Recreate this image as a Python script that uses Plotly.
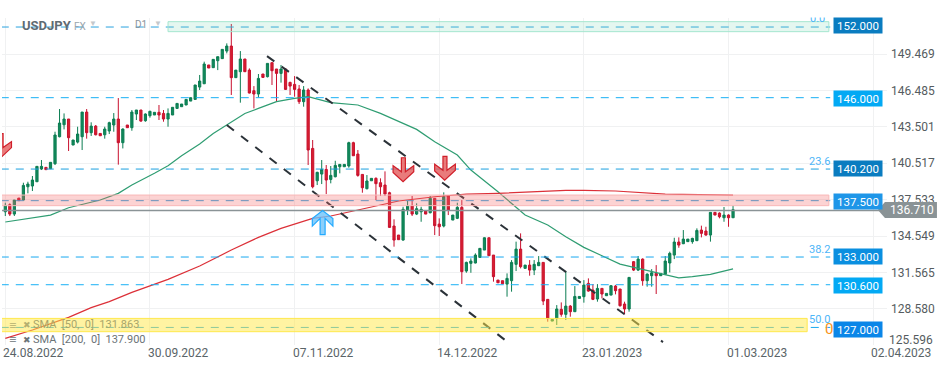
import plotly.graph_objects as go

opens = [136.54,137.12,136.35,137.66,137.50,138.59,138.65,139.00,140.04,140.18,
140.07,140.48,142.69,143.67,144.14,142.01,142.25,142.69,144.71,143.02,
143.56,142.96,142.85,143.16,143.65,144.14,142.20,143.65,143.43,144.55,
144.88,144.00,144.41,144.47,144.69,144.60,144.14,144.47,145.01,145.15,
145.29,145.61,145.75,146.76,147.03,148.57,148.35,148.92,149.09,149.71,
150.12,147.53,148.02,149.06,148.15,146.46,146.19,147.83,147.61,148.76,
148.24,147.88,148.24,147.14,146.98,146.60,145.56,146.52,141.73,139.08,
139.63,140.01,139.19,139.41,140.23,140.23,140.29,142.20,141.27,139.60,
138.43,139.08,139.28,138.92,138.73,138.10,135.37,134.63,134.22,136.68,
137.01,136.35,136.54,136.60,136.46,137.64,135.53,135.37,137.83,135.86,
136.00,136.90,131.68,132.31,132.34,132.80,133.40,134.41,132.99,130.94,
130.89,130.61,130.89,132.23,133.48,131.90,132.17,131.76,132.12,132.39,
129.36,127.58,127.80,128.54,128.13,128.81,128.35,129.44,129.58,130.67,
130.12,129.39,130.26,129.66,129.71,130.45,130.21,128.98,128.57,132.45,
131.76,132.66,130.89,131.30,131.49,131.30,131.41,132.34,132.99,134.06,
133.92,134.09,134.09,134.17,135.04,134.96,134.63,136.49,136.43,136.05,
136.27,136.05]
highs = [137.28,137.23,137.50,137.66,138.92,139.00,139.47,140.26,140.78,140.18,
140.59,143.10,144.96,144.60,144.14,142.42,143.51,144.71,144.96,143.87,
143.65,142.96,143.51,143.92,144.63,145.86,143.37,143.65,144.88,144.88,
144.88,144.60,144.82,144.69,145.29,144.88,145.01,145.10,145.42,145.37,
145.75,145.89,146.93,147.75,148.84,148.57,149.03,149.25,149.85,150.34,
151.93,148.15,149.71,149.06,148.29,146.84,147.83,147.83,148.70,148.76,
148.24,148.57,148.29,147.20,147.66,146.93,146.84,146.65,142.42,139.82,
140.78,140.37,140.29,140.72,140.42,140.42,142.28,142.28,141.60,139.60,
139.55,139.28,139.36,139.28,139.85,138.18,135.92,134.63,136.95,137.42,
137.83,137.23,136.95,136.60,137.83,137.64,136.00,138.13,137.83,136.27,
137.28,137.50,132.45,132.72,133.13,133.54,134.44,134.41,132.99,130.94,
130.89,131.49,132.58,134.09,134.77,132.17,132.58,132.58,132.91,132.39,
129.36,127.72,128.89,129.11,131.68,128.89,130.45,129.60,130.94,131.08,
130.61,130.61,130.26,129.85,130.53,130.53,130.21,129.17,131.16,132.50,
132.91,132.72,131.49,131.84,132.17,131.49,132.91,133.27,134.41,134.44,
135.04,134.30,134.41,135.18,135.40,135.31,136.49,136.49,136.49,136.93,
136.33,137.04]
lows = [136.19,136.19,136.19,137.45,137.45,138.05,138.24,139.00,139.96,139.99,
140.04,140.37,142.64,143.29,141.52,142.01,142.14,141.60,142.53,142.75,
142.80,142.77,142.53,142.91,143.10,140.40,141.73,143.43,143.18,144.06,
143.92,143.92,144.25,144.47,144.06,143.92,143.51,144.47,145.01,145.15,
145.29,145.61,145.75,146.52,147.03,148.32,148.35,148.15,149.09,149.52,
146.11,147.53,145.48,148.02,146.24,145.01,145.91,147.55,147.55,146.93,
145.56,147.12,146.52,146.11,145.97,145.37,145.15,140.37,138.46,138.73,
138.81,137.99,138.87,139.36,139.69,140.23,140.15,141.13,139.41,138.10,
138.37,139.08,137.50,137.83,137.83,135.23,133.68,134.25,134.17,136.27,
136.19,136.27,135.72,136.35,136.41,134.63,134.55,135.26,136.27,135.86,
135.94,130.62,131.54,131.54,132.31,132.80,133.40,132.94,130.81,130.72,
130.64,129.58,129.99,131.68,131.90,131.90,131.30,131.35,132.09,128.89,
127.53,127.58,127.26,127.94,127.67,127.94,128.35,129.44,129.09,129.99,
129.30,129.17,129.44,129.66,129.71,129.77,128.76,128.13,128.35,131.68,
131.68,130.48,130.40,130.40,129.80,131.30,131.35,131.57,132.66,133.59,
133.89,134.09,133.92,134.14,134.44,134.58,134.09,136.27,136.00,135.72,
135.31,136.05]
closes = [137.06,136.35,137.50,137.45,138.70,138.81,139.14,140.26,140.26,139.99,
140.59,142.83,143.81,144.14,142.61,142.42,142.91,144.71,143.02,143.56,
142.85,142.77,143.32,143.84,144.14,142.20,143.32,143.43,144.71,144.88,
143.97,144.55,144.77,144.69,144.47,144.14,144.60,145.10,145.42,145.37,
145.75,145.89,146.93,147.25,148.65,148.32,149.03,149.25,149.85,150.12,
147.53,148.15,149.06,148.02,146.27,146.19,147.47,147.55,148.70,148.10,
147.88,148.24,146.57,146.84,146.57,145.56,146.52,141.60,138.59,139.77,
140.01,139.14,139.52,140.34,140.42,140.42,142.20,141.13,139.52,138.51,
139.06,139.28,138.84,138.59,137.99,135.26,134.22,134.25,136.74,137.01,
136.35,136.79,136.74,136.35,137.64,135.40,135.31,137.77,136.68,136.27,
136.90,131.63,132.39,132.50,132.99,133.54,134.41,132.94,131.22,130.72,
130.64,131.08,132.39,133.48,132.04,132.17,131.76,132.23,132.39,129.22,
127.80,127.72,128.57,128.13,128.81,128.35,129.60,129.60,130.53,130.04,
129.36,130.26,129.80,129.85,130.48,130.07,128.84,128.57,131.16,131.76,
132.66,130.89,131.43,131.54,131.30,131.49,132.50,133.13,134.06,133.81,
134.30,134.30,134.36,135.01,134.77,134.63,136.49,136.27,136.13,136.27,
136.05,136.71]

sma50_bar = [0,4,10,14,17,21,25,28,33,36,39,43,46,49,53,56,60,64,67,72,78,83,91,95,100,103,109,115,120,124,128,132,136,140,145,149,152,156,161]
sma50_val = [135.70,135.92,136.27,136.87,137.14,137.50,138.05,138.73,139.69,140.31,141.13,142.09,142.96,143.65,144.60,145.01,145.56,145.83,145.97,145.48,145.29,144.60,143.29,142.28,141.19,139.96,138.18,136.27,135.45,134.50,133.62,132.94,132.25,131.90,131.49,131.13,131.22,131.41,131.86]
sma200_bar = [0,6,14,19,23,28,36,43,50,56,61,68,72,80,87,95,102,109,117,124,128,132,135,146,161]
sma200_val = [126.16,126.85,127.88,128.68,129.17,129.93,131.00,132.09,133.40,134.44,135.18,136.00,136.19,136.82,137.42,137.77,137.99,138.05,138.18,138.29,138.29,138.24,138.24,137.99,137.90]

price_ticks = [149.469,146.485,143.501,140.517,137.533,134.549,131.565,128.580]
price_tick_bottom = "125.596"
date_bars = [0,32,64,96,128,160,192]
date_labels = ["24.08.2022","30.09.2022","07.11.2022","14.12.2022","23.01.2023","01.03.2023","02.04.2023"]

level_names = ["152.000","146.000","140.200","137.500","133.000","130.600","127.000"]
level_lines = [151.68,145.89,140.04,137.45,132.83,130.56,127.06]
level_tags = [151.80,145.82,140.08,137.38,132.87,130.49,126.89]
level_colors = ["#0a7cc0","#03a9f4","#0a7cc0","#1e96e8","#0a8fe0","#03a9f4","#0a86e8"]
line_colors = ["#2aa2df","#18b0f5","#1a9fdf","#2aa2df","#18a8f0","#18b0f5","#18a8f0"]

zones = [(36,182.2,151.30,152.12,"rgba(120,215,180,0.2)","#a5e6cf"),
         (-1,182.2,137.04,137.91,"rgba(245,110,110,0.3)","#f8b8b8"),
         (-1,177.4,126.71,127.80,"rgba(255,232,70,0.5)","#ffe84d")]
trends = [(57.9,149.30,145.5,125.86),(49,143.65,111.7,125.70)]
fib_labels = [("23.6",140.04),("38.2",132.83),("50.0",127.06)]
current_price = 136.65

fig = go.Figure()
fig.add_trace(go.Candlestick(x=list(range(len(opens))),open=opens,high=highs,low=lows,close=closes,
    increasing=dict(line=dict(color="#0b7d52",width=1),fillcolor="#128a5c"),
    decreasing=dict(line=dict(color="#c8102e",width=1),fillcolor="#d8202f"),
    whiskerwidth=0,hoverinfo="skip",showlegend=False))
fig.add_trace(go.Scatter(x=sma50_bar,y=sma50_val,mode="lines",line=dict(color="#2f9d72",width=1.2),showlegend=False,hoverinfo="skip"))
fig.add_trace(go.Scatter(x=sma200_bar,y=sma200_val,mode="lines",line=dict(color="#dc3038",width=1.2),showlegend=False,hoverinfo="skip"))

shapes = []
for (x0,y0,x1,y1) in trends:
    shapes.append(dict(type="line",x0=x0,y0=y0,x1=x1,y1=y1,xref="x",yref="y",line=dict(color="#2b3238",width=2,dash="9px,9px")))
for p,c in zip(level_lines,line_colors):
    shapes.append(dict(type="line",x0=-1,x1=182.5,y0=p,y1=p,xref="x",yref="y",line=dict(color=c,width=1,dash="8px,7px")))
shapes.append(dict(type="line",x0=-1,x1=195,y0=current_price,y1=current_price,xref="x",yref="y",line=dict(color="#8a9396",width=1.5)))
for (x0,x1,y0,y1,fc,lc) in zones:
    shapes.append(dict(type="rect",x0=x0,x1=x1,y0=y0,y1=y1,xref="x",yref="y",fillcolor=fc,line=dict(color=lc,width=1)))

def down_arrow():
    return "M-1.7,24 L2.3,24 L2.3,10 L10.7,16 L10.7,10 L0,0 L-10,9.3 L-10,16 L-1.7,10 Z"
def up_arrow():
    return "M-2.5,-24.3 L2.5,-24.3 L2.5,-8 L10.3,-15.7 L10.3,-8 L0,0 L-10.3,-8 L-10.3,-15.7 L-2.5,-8 Z"
for bx,py in [(88.0,139.0),(97.2,139.12),(-1.0,140.98)]:
    shapes.append(dict(type="path",xref="x",yref="y",xsizemode="pixel",ysizemode="pixel",xanchor=bx,yanchor=py,path=down_arrow(),
        fillcolor="rgba(228,90,90,0.8)",line=dict(color="#d01f2a",width=1.2)))
shapes.append(dict(type="path",xref="x",yref="y",xsizemode="pixel",ysizemode="pixel",xanchor=70.2,yanchor=136.65,path=up_arrow(),
    fillcolor="rgba(110,195,250,0.8)",line=dict(color="#22aaff",width=1.2)))
shapes.append(dict(type="path",xref="paper",yref="paper",xsizemode="pixel",ysizemode="pixel",xanchor=0.9977,yanchor=0.4128,
    path="M-7,0 L0,8 L52,8 L52,-8 L0,-8 Z",fillcolor="#8a9396",line=dict(width=0)))

ann = []
def note(text,x,y,size=12,color="#5a6468",xref="x",yref="y",anchor="left",**kw):
    ann.append(dict(text=text,x=x,y=y,xref=xref,yref=yref,xanchor=anchor,yanchor="middle",showarrow=False,
                    font=dict(family="Roboto",size=size,color=color),**kw))
for b,t in zip(date_bars,date_labels):
    note(t,b,-0.024,xref="x",yref="paper",xshift=-4)
note(price_tick_bottom,1,126.05,xref="paper",xshift=0,color="#555c60")
note("0.0",177.5,152.42,size=11,color="#4db5f8",yshift=0)
ann.append(dict(text=" ",x=177,y=1.0,xref="x",yref="paper",xanchor="left",yanchor="bottom",showarrow=False,bgcolor="#ffffff",width=32,height=18,
                font=dict(size=10)))
for t,p in fib_labels:
    note(t,177.4,p+0.62 if t!="50.0" else p+0.65,size=11,color="#4db5f8")
note("03:50",180.9,126.95,size=15,color="#f7941d")
for n,p,c in zip(level_names,level_tags,level_colors):
    note(n,183.1,p,size=11.5,color="#ffffff",bgcolor=c,width=48,height=15,align="center",borderpad=0)
note("136.710",1,current_price,xref="paper",size=12,color="#ffffff",xshift=1)
note("<b>USDJPY</b>",3.2,151.82,size=13,color="#5f6b73")
note("FX",14.7,151.75,size=10,color="#9aa5ad")
note("▼",18,151.95,size=8,color="#c4c8cc")
note("D1",28.2,151.85,size=10,color="#8a949b")
note("▼",32.5,151.95,size=8,color="#c4c8cc")
note("≡",0.4,127.25,size=13,color="#b5b070")
note("✖",3.4,127.25,size=9,color="#b5b070")
note("SMA  [50,  0]  131.863",5.7,127.28,size=11,color="#a8a569")
note("≡",0.4,126.07,size=13,color="#6b7377")
note("✖",3.4,126.07,size=9,color="#6b7377")
note("SMA  [200,  0]  137.900",5.7,126.07,size=11,color="#6b7377")

fig.update_layout(width=949,height=370,margin=dict(l=2,r=62,t=18,b=25),paper_bgcolor="#ffffff",plot_bgcolor="#ffffff",
    showlegend=False,shapes=shapes,annotations=ann,hovermode=False,
    xaxis=dict(range=[-0.73,195.06],tickvals=date_bars,showticklabels=False,showgrid=True,gridcolor="#f0f1f2",gridwidth=1,zeroline=False,
               rangeslider=dict(visible=False),showline=False,ticks=""),
    yaxis=dict(range=[125.62,152.42],side="right",tickvals=price_ticks,tickformat=".3f",showgrid=True,gridcolor="#f0f1f2",gridwidth=1,zeroline=False,
               tickfont=dict(family="Roboto",size=12,color="#555c60"),ticks="",showline=False,ticklabelstandoff=3))
fig.write_html("out.html",config=dict(displayModeBar=False,responsive=False),
               post_script="document.body.style.margin='0';document.body.style.overflow='hidden';")
